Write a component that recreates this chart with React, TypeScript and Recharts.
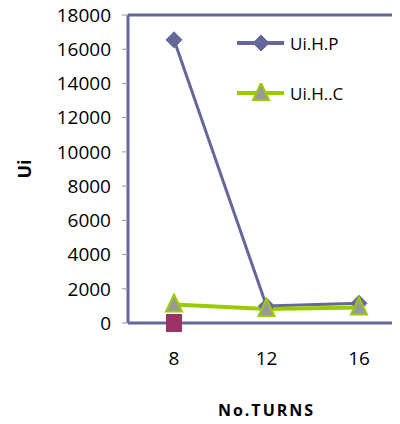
import { LineChart, Line, XAxis, YAxis, Legend, ReferenceLine } from "recharts";

// values
const turns = ["8", "12", "16"];
const uiHP = [16550, 990, 1150];
const uiHC = [1080, 820, 910];
const uiExtra = [0, null, null];
const yTicks = [0, 2000, 4000, 6000, 8000, 10000, 12000, 14000, 16000, 18000];
const legendOrder = ["hp", "hc"];

const data = turns.map((t, i) => ({
  turns: t,
  hp: uiHP[i],
  hc: uiHC[i],
  extra: uiExtra[i],
}));

const FONT = "'Open Sans', sans-serif";
const BLUE = "#666699";
const GREEN = "#99CC00";

const Diamond = (props: any) => {
  const { cx, cy } = props;
  if (cx == null || cy == null) return null;
  return (
    <polygon
      points={`${cx},${cy - 8} ${cx + 8},${cy} ${cx},${cy + 8} ${cx - 8},${cy}`}
      fill={BLUE}
      stroke={BLUE}
      strokeWidth={1}
    />
  );
};

const Triangle = (props: any) => {
  const { cx, cy } = props;
  if (cx == null || cy == null) return null;
  return (
    <polygon
      points={`${cx},${cy - 10} ${cx + 8},${cy + 7} ${cx - 8},${cy + 7}`}
      fill="#999999"
      stroke={GREEN}
      strokeWidth={2}
    />
  );
};

const Square = (props: any) => {
  const { cx, cy } = props;
  if (cx == null || cy == null) return null;
  return <rect x={cx - 8} y={cy - 9} width={16} height={18} fill="#993366" />;
};

const LegendContent = (props: any) => {
  const items = (props.payload || [])
    .filter((p: any) => legendOrder.includes(p.dataKey))
    .sort((a: any, b: any) => legendOrder.indexOf(a.dataKey) - legendOrder.indexOf(b.dataKey));
  return (
    <div style={{ fontFamily: FONT, fontSize: 17, color: "#000" }}>
      {items.map((it: any) => (
        <div key={it.value} style={{ display: "flex", alignItems: "center", height: 20, marginBottom: 30 }}>
          <svg width={47} height={20}>
            {it.dataKey === "hp" ? (
              <>
                <line x1={0} y1={10} x2={47} y2={10} stroke={BLUE} strokeWidth={4} />
                <Diamond cx={24} cy={10} />
              </>
            ) : (
              <>
                <line x1={0} y1={10} x2={47} y2={10} stroke={GREEN} strokeWidth={4} />
                <Triangle cx={24} cy={10} />
              </>
            )}
          </svg>
          <span style={{ marginLeft: 6 }}>{it.value}</span>
        </div>
      ))}
    </div>
  );
};

export default function App() {
  // cancel the body margin so the plot can run off the right edge like the original
  return (
    <div style={{ margin: -8, width: 400, height: 424, overflow: "hidden", background: "#fff" }}>
      <LineChart
        width={408}
        height={424}
        data={data}
        margin={{ top: 15, right: 3, bottom: 0, left: 8 }}
      >
        <XAxis
          dataKey="turns"
          height={101}
          padding={{ left: 46, right: 46 }}
          axisLine={{ stroke: BLUE, strokeWidth: 3 }}
          tickLine={false}
          tickSize={0}
          tickMargin={29}
          tick={{ fill: "#000", fontSize: 19, fontFamily: FONT }}
          label={{
            value: "No.TURNS",
            position: "insideBottom",
            offset: 8,
            style: { fontFamily: FONT, fontSize: 16, fontWeight: 700, letterSpacing: 2, fill: "#000" },
          }}
        />
        <YAxis
          width={120}
          domain={[0, 18000]}
          ticks={yTicks}
          interval={0}
          axisLine={{ stroke: BLUE, strokeWidth: 3 }}
          tickLine={{ stroke: "#999" }}
          tickSize={6}
          tickMargin={11}
          tick={{ fill: "#000", fontSize: 19, fontFamily: FONT }}
          label={{
            value: "Ui",
            angle: -90,
            position: "insideLeft",
            offset: 17,
            style: { textAnchor: "middle", fontFamily: FONT, fontSize: 18, fontWeight: 700, fill: "#000" },
          }}
        />
        <ReferenceLine y={18000} stroke={BLUE} strokeWidth={3} />
        <Legend
          layout="vertical"
          verticalAlign="middle"
          align="center"
          content={<LegendContent />}
          wrapperStyle={{ top: 33, left: 237, width: 150 }}
        />
        <Line
          dataKey="hp"
          name="Ui.H.P"
          stroke={BLUE}
          strokeWidth={3}
          dot={<Diamond />}
          isAnimationActive={false}
        />
        <Line
          dataKey="hc"
          name="Ui.H..C"
          stroke={GREEN}
          strokeWidth={4}
          dot={<Triangle />}
          isAnimationActive={false}
        />
        <Line
          dataKey="extra"
          name="extra"
          legendType="none"
          stroke="#993366"
          strokeWidth={2}
          dot={<Square />}
          isAnimationActive={false}
        />
      </LineChart>
    </div>
  );
}
